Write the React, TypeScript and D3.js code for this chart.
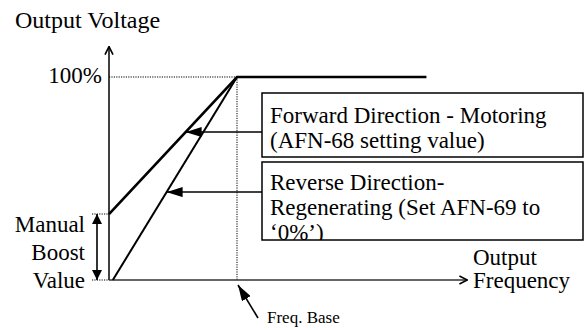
import React from 'react';
import * as d3 from 'd3';

// frequency as fraction of base frequency, voltage in %
const forwardFreq = [0, 1, 2.48];
const forwardVolt = [32.5, 100, 100];
const reverseFreq = [0.03, 1];
const reverseVolt = [0, 100];
const boostValue = 32.5;
const axisMaxFreq = 2.8;
const axisMaxVolt = 115;
const calloutVolts = [72.9, 43.3];
const calloutText = [
  ['Forward Direction - Motoring', '(AFN-68 setting value)'],
  ['Reverse Direction-', 'Regenerating (Set AFN-69 to', '\u20180%\u2019)'],
];

const FONT = "'Liberation Serif', 'Times New Roman', serif";

const x = d3.scaleLinear().domain([0, 1]).range([109, 237]);
const y = d3.scaleLinear().domain([0, 100]).range([280, 77]);
const line = d3.line<[number, number]>().x(d => x(d[0])).y(d => y(d[1]));

const fwdAt = d3.scaleLinear().domain(forwardVolt.slice(0, 2)).range(forwardFreq.slice(0, 2));
const revAt = d3.scaleLinear().domain(reverseVolt).range(reverseFreq);
const tips = [fwdAt(calloutVolts[0]), revAt(calloutVolts[1])];
const boxes = [{ top: 93, bottom: 157, first: 30 }, { top: 162, bottom: 240, first: 28 }];

const Dot = ({ x1, y1, x2, y2 }: { x1: number; y1: number; x2: number; y2: number }) => (
  <line x1={x1} y1={y1} x2={x2} y2={y2} stroke="#000" strokeWidth={1} strokeDasharray="1.2,1.2" />
);

const App = () => (
  <svg width={584} height={330}
    style={{ position: 'absolute', left: 0, top: 0, background: '#fff', fontFamily: FONT }}>
    <defs>
      <marker id="tri" viewBox="0 0 10 10" refX={10} refY={5} markerWidth={10} markerHeight={10}
        markerUnits="userSpaceOnUse" orient="auto-start-reverse">
        <path d="M0,0L10,5L0,10Z" fill="#000" />
      </marker>
      <marker id="big" viewBox="0 0 16 10" refX={16} refY={5} markerWidth={16} markerHeight={10}
        markerUnits="userSpaceOnUse" orient="auto">
        <path d="M0,0L16,5L0,10Z" fill="#000" />
      </marker>
      <marker id="open" viewBox="0 0 10 10" refX={9} refY={5} markerWidth={10} markerHeight={10}
        markerUnits="userSpaceOnUse" orient="auto">
        <path d="M1,1L9,5L1,9" fill="none" stroke="#000" strokeWidth={1.6} />
      </marker>
      {boxes.map((b, i) => (
        <clipPath id={`clip${i}`} key={i}>
          <rect x={262} y={b.top} width={321} height={b.bottom - b.top} />
        </clipPath>
      ))}
    </defs>

    {/* dotted guides */}
    <Dot x1={x(0)} y1={y(100)} x2={x(1)} y2={y(100)} />
    <Dot x1={x(1)} y1={y(100)} x2={x(1)} y2={y(0)} />
    <Dot x1={92} y1={y(boostValue)} x2={x(0)} y2={y(boostValue)} />
    <Dot x1={92} y1={y(0)} x2={x(0)} y2={y(0)} />

    {/* axes */}
    <line x1={x(0)} y1={y(0)} x2={x(0)} y2={y(axisMaxVolt)} stroke="#000" strokeWidth={1.5} markerEnd="url(#open)" />
    <line x1={x(0)} y1={y(0)} x2={x(axisMaxFreq)} y2={y(0)} stroke="#333" strokeWidth={1.5} markerEnd="url(#open)" />

    <path d={line(forwardFreq.map((f, i) => [f, forwardVolt[i]] as [number, number])) || ''}
      fill="none" stroke="#000" strokeWidth={2.6} />
    <path d={line(reverseFreq.map((f, i) => [f, reverseVolt[i]] as [number, number])) || ''}
      fill="none" stroke="#000" strokeWidth={2} />

    {/* boost double arrow */}
    <line x1={97} y1={y(boostValue)} x2={97} y2={y(0)} stroke="#000" strokeWidth={1.6}
      markerStart="url(#tri)" markerEnd="url(#tri)" />

    {/* callouts */}
    {boxes.map((b, i) => (
      <g key={i}>
        <line x1={262} y1={y(calloutVolts[i])} x2={x(tips[i])} y2={y(calloutVolts[i])}
          stroke="#000" strokeWidth={1.5} markerEnd="url(#big)" />
        <rect x={262} y={b.top} width={321} height={b.bottom - b.top} fill="#fff" stroke="#000" strokeWidth={1.5} />
        <text clipPath={`url(#clip${i})`} fontSize={23}>
          {calloutText[i].map((s, j) => (
            <tspan key={j} x={270} y={b.top + b.first + j * 25}>{s}</tspan>
          ))}
        </text>
      </g>
    ))}

    {/* freq base pointer */}
    <line x1={258} y1={318} x2={x(1) + 1} y2={y(0) + 5} stroke="#000" strokeWidth={1.6} markerEnd="url(#big)" />

    <text x={15} y={28} fontSize={24}>Output Voltage</text>
    <text x={102} y={83} fontSize={23} textAnchor="end">100%</text>
    <text x={85} y={232} fontSize={23} textAnchor="end">Manual</text>
    <text x={85} y={260} fontSize={23} textAnchor="end">Boost</text>
    <text x={85} y={288} fontSize={23} textAnchor="end">Value</text>
    <text x={473} y={265} fontSize={23}>Output</text>
    <text x={473} y={288} fontSize={23}>Frequency</text>
    <text x={267} y={323} fontSize={17}>Freq. Base</text>
  </svg>
);

export default App;
